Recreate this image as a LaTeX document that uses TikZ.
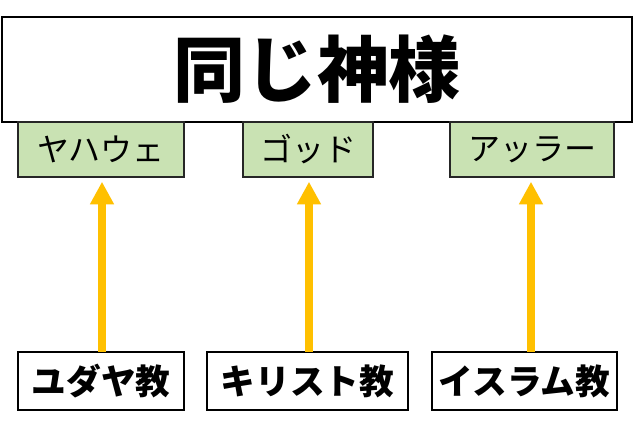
\documentclass[tikz,border=0pt]{standalone}
\usepackage{fontspec}
\setmainfont{Noto Sans CJK JP}
\usetikzlibrary{arrows.meta}
\def\px{0.75pt}
\definecolor{gfill}{HTML}{C9E2B3}
\definecolor{arrcol}{HTML}{FFC000}
\tikzset{
  titlebox/.style={draw=black, line width=1.5pt, fill=white, inner sep=0pt, font=\fontsize{54}{60}\selectfont\bfseries},
  godbox/.style={draw=black!85, line width=1.1pt, fill=gfill, inner sep=0pt, minimum height=55*\px, font=\fontsize{24}{28}\selectfont},
  relbox/.style={draw=black, line width=1.5pt, fill=white, inner sep=0pt, minimum height=58*\px, font=\fontsize{26}{30}\selectfont\bfseries},
  arr/.style={draw=arrcol, line width=6pt, -{Triangle[width=17pt,length=17pt]}, shorten >=4*\px}
}
\begin{document}
\begin{tikzpicture}[x=0.75pt, y=-0.75pt]
\useasboundingbox (0,0) rectangle (640,423);
\fill[white] (0,0) rectangle (640,423);
\node[titlebox, minimum width=630*\px, minimum height=105*\px] (title) at (317,69.5) {同じ神様};
\node[godbox, minimum width=166*\px] (g1) at (101,149.5) {ヤハウェ};
\node[godbox, minimum width=130*\px] (g2) at (308,149.5) {ゴッド};
\node[godbox, minimum width=164*\px] (g3) at (532,149.5) {アッラー};
\node[relbox, minimum width=166*\px] (b1) at (101,381) {ユダヤ教};
\node[relbox, minimum width=201*\px] (b2) at (307.5,381) {キリスト教};
\node[relbox, minimum width=185*\px] (b3) at (524.5,381) {イスラム教};
\coordinate (a1) at (102,352);
\coordinate (a2) at (309,352);
\coordinate (a3) at (531,352);
\draw[arr] (a1) -- (a1 |- g1.south);
\draw[arr] (a2) -- (a2 |- g2.south);
\draw[arr] (a3) -- (a3 |- g3.south);
\end{tikzpicture}
\end{document}
